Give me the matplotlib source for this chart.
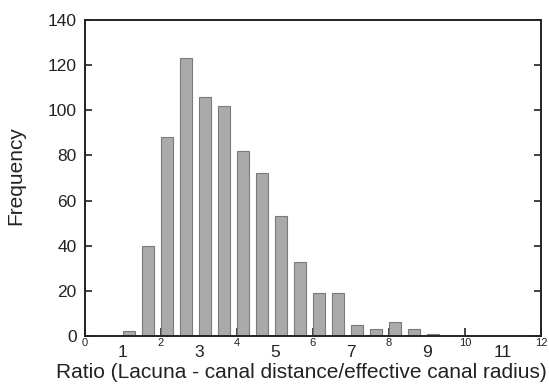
import matplotlib.pyplot as plt

plt.rcParams['font.family'] = ['Liberation Sans', 'DejaVu Sans']

# left edge of each bin (ratio) and its count
bin_starts = [1.0, 1.5, 2.0, 2.5, 3.0, 3.5, 4.0, 4.5, 5.0, 5.5, 6.0, 6.5,
              7.0, 7.5, 8.0, 8.5, 9.0]
counts = [2, 40, 88, 123, 106, 102, 82, 72, 53, 33, 19, 19,
          5, 3, 6, 3, 1]

even_ticks = [0, 2, 4, 6, 8, 10, 12]
odd_ticks = [1, 3, 5, 7, 9, 11]
y_ticks = [0, 20, 40, 60, 80, 100, 120, 140]

fig = plt.figure(figsize=(5.49, 3.86), dpi=100)
ax = fig.add_axes([0.1548, 0.1295, 0.8306, 0.8187])

ax.bar(bin_starts, counts, width=0.32, align='edge', zorder=3,
       color='#aaaaaa', edgecolor='#7a7a7a', linewidth=0.8)

ax.set_xlim(0, 12)
ax.set_ylim(0, 140)

# even numbers: small labels with ticks; odd numbers: large labels, no ticks
ax.set_xticks(even_ticks, labels=[str(t) for t in even_ticks])
ax.set_xticks(odd_ticks, labels=[str(t) for t in odd_ticks], minor=True)
ax.tick_params(axis='x', which='major', direction='in', length=6, width=1.2,
               labelsize=8, pad=1.5, colors='#222222')
ax.tick_params(axis='x', which='minor', length=0, labelsize=12.5, pad=6.5,
               colors='#222222')

ax.set_yticks(y_ticks)
ax.tick_params(axis='y', which='major', direction='in', length=5, width=1.2,
               labelsize=12.5, pad=6, right=True, colors='#222222')

for s in ax.spines.values():
    s.set_linewidth(1.4)
    s.set_color('#222222')
    s.set_zorder(4)

ax.set_ylabel('Frequency', fontsize=15, color='#222222')
ax.yaxis.set_label_coords(-0.1316, 0.508)
ax.set_xlabel('Ratio (Lacuna - canal distance/effective canal radius)',
              fontsize=15, color='#222222')
ax.xaxis.set_label_coords(0.474, -0.0854)

fig.savefig('out.png', dpi=100)
